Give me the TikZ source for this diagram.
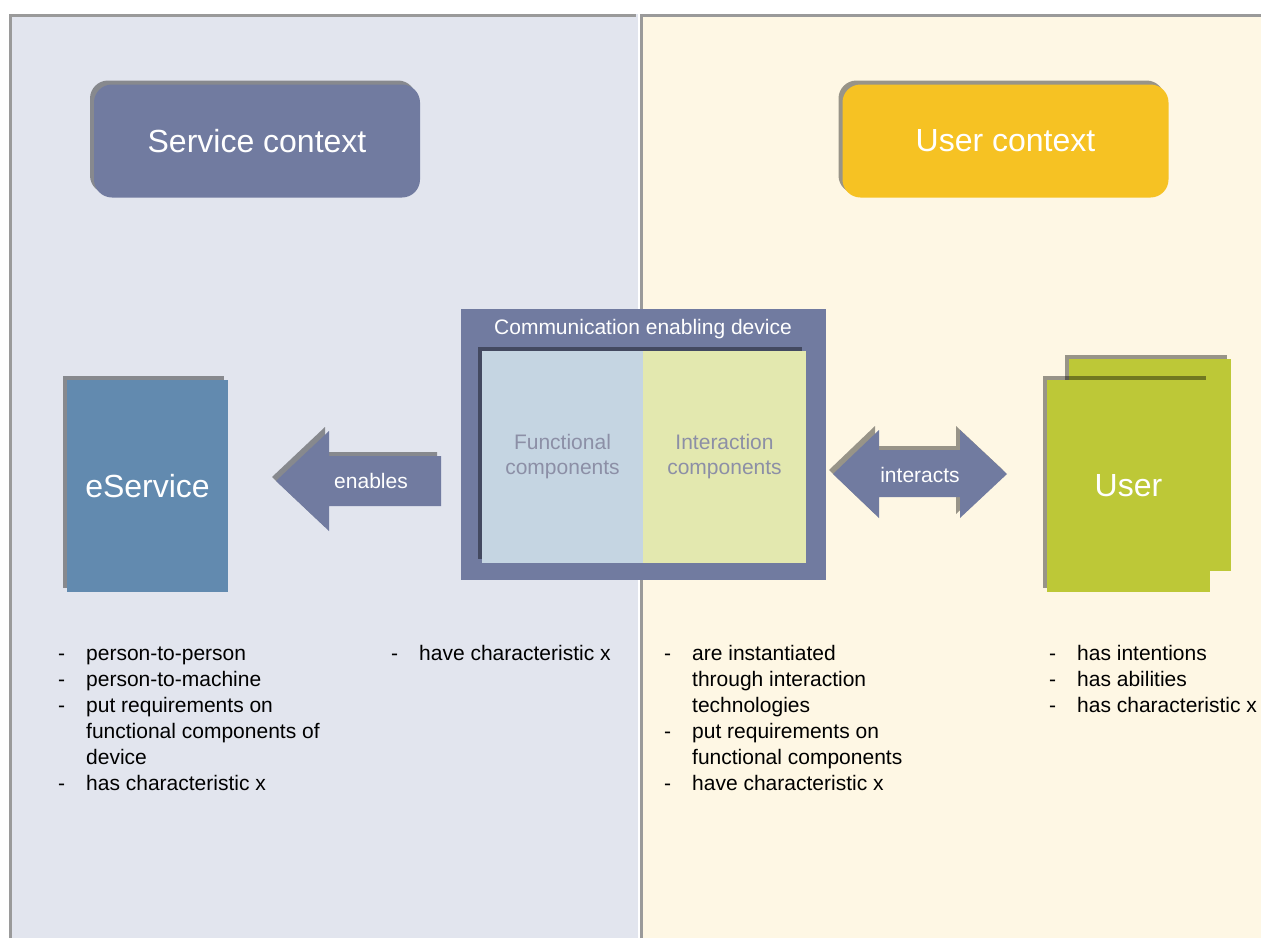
\documentclass[tikz,border=0pt]{standalone}
\usepackage{fontspec}
\setmainfont{Liberation Sans}
\usetikzlibrary{positioning,shadows}
\definecolor{frameGray}{HTML}{9A9A9A}
\definecolor{serviceBack}{HTML}{E2E5EE}
\definecolor{userBack}{HTML}{FEF7E4}
\definecolor{slateBlue}{HTML}{717BA0}
\definecolor{serviceBlue}{HTML}{628AAF}
\definecolor{userGreen}{HTML}{BDC837}
\definecolor{userYellow}{HTML}{F6C223}
\definecolor{funcBlue}{HTML}{C5D5E2}
\definecolor{interGreen}{HTML}{E3E8AF}
\definecolor{innerText}{HTML}{8C8FA6}

\begin{document}
\begin{tikzpicture}[x=1pt, y=-1pt,
  shade4/.style={drop shadow={shadow xshift=-4pt, shadow yshift=4pt, opacity=0.4, fill=black}},
  ctxbox/.style={shade4, rounded corners=18pt, minimum width=326pt, minimum height=113pt, inner sep=0pt, text=white, font=\fontsize{32}{38}\selectfont},
  block/.style={shade4, minimum width=162pt, minimum height=212pt, inner sep=0pt, text=white, font=\fontsize{32}{38}\selectfont},
  half/.style={minimum height=212pt, inner sep=0pt, text=innerText, align=center, font=\fontsize{21}{25}\selectfont},
  arrowtext/.style={text=white, inner sep=0pt, font=\fontsize{21}{25}\selectfont},
  bulletlist/.style={anchor=base west, inner sep=0pt, font=\fontsize{21}{26}\selectfont}]
 	\useasboundingbox (0,0) rectangle (1261,938);
 	\fill[white] (0,0) rectangle (1261,938);
 	% the two contexts
 	\fill[serviceBack] (10,14) rectangle (638,938);
 	\fill[userBack] (641,14) rectangle (1261,938);
 	\draw[frameGray, line width=3pt] (10,938) -- (10,15) -- (636,15);
 	\draw[frameGray, line width=3pt] (641,938) -- (641,15) -- (1261,15);
 	\node[ctxbox, fill=slateBlue] (serviceCtx) at (257,141) {Service context};
 	\node[ctxbox, fill=userYellow] (userCtx) at (1005.5,141) {User context};
 	% eService
 	\node[block, fill=serviceBlue, minimum width=161pt] (eService) at (147.5,486) {eService};
 	% device
 	\node[fill=slateBlue, minimum width=365pt, minimum height=271pt, inner sep=0pt] (device) at (643.5,444.5) {};
 	\node[arrowtext] (deviceTitle) at (643,329) {Communication enabling device};
 	\node[shade4, fill=funcBlue, minimum width=324pt, minimum height=212pt, inner sep=0pt] (deviceInner) at (644,457) {};
 	\node[half, fill=funcBlue, minimum width=161pt] (functional) at (562.5,457) {Functional\\components};
 	\node[half, fill=interGreen, minimum width=163pt] (interaction) at (724.5,457) {Interaction\\components};
 	% user
 	\node[block, fill=userGreen] (userBack) at (1150,465) {};
 	\node[block, fill=userGreen, minimum width=163pt] (user) at (1128.5,486) {User};
 	% block arrows
 	\fill[slateBlue, shade4] (276,481) -- (329,431) -- (329,456) -- (441,456) -- (441,506) -- (329,506) -- (329,531) -- cycle;
 	\node[arrowtext] (enables) at (371,481) {enables};
 	\fill[slateBlue, shade4] (833,474) -- (879,430) -- (879,450) -- (960,450) -- (960,430) -- (1007,474) -- (960,518) -- (960,497) -- (879,497) -- (879,518) -- cycle;
 	\node[arrowtext] (interacts) at (920,475) {interacts};
 	% lists
 	\node[bulletlist] (serviceList) at (58,660) {\begin{tabular}[t]{@{}p{28pt}@{}l@{}}
 	- & person-to-person\\
 	- & person-to-machine\\
 	- & put requirements on\\
 	  & functional components of\\
 	  & device\\
 	- & has characteristic x
 	\end{tabular}};
 	\node[bulletlist] (deviceList) at (391,660) {\begin{tabular}[t]{@{}p{28pt}@{}l@{}}
 	- & have characteristic x
 	\end{tabular}};
 	\node[bulletlist] (interactionList) at (664,660) {\begin{tabular}[t]{@{}p{28pt}@{}l@{}}
 	- & are instantiated\\
 	  & through interaction\\
 	  & technologies\\
 	- & put requirements on\\
 	  & functional components\\
 	- & have characteristic x
 	\end{tabular}};
 	\node[bulletlist] (userList) at (1049,660) {\begin{tabular}[t]{@{}p{28pt}@{}l@{}}
 	- & has intentions\\
 	- & has abilities\\
 	- & has characteristic x
 	\end{tabular}};
\end{tikzpicture}
\end{document}
